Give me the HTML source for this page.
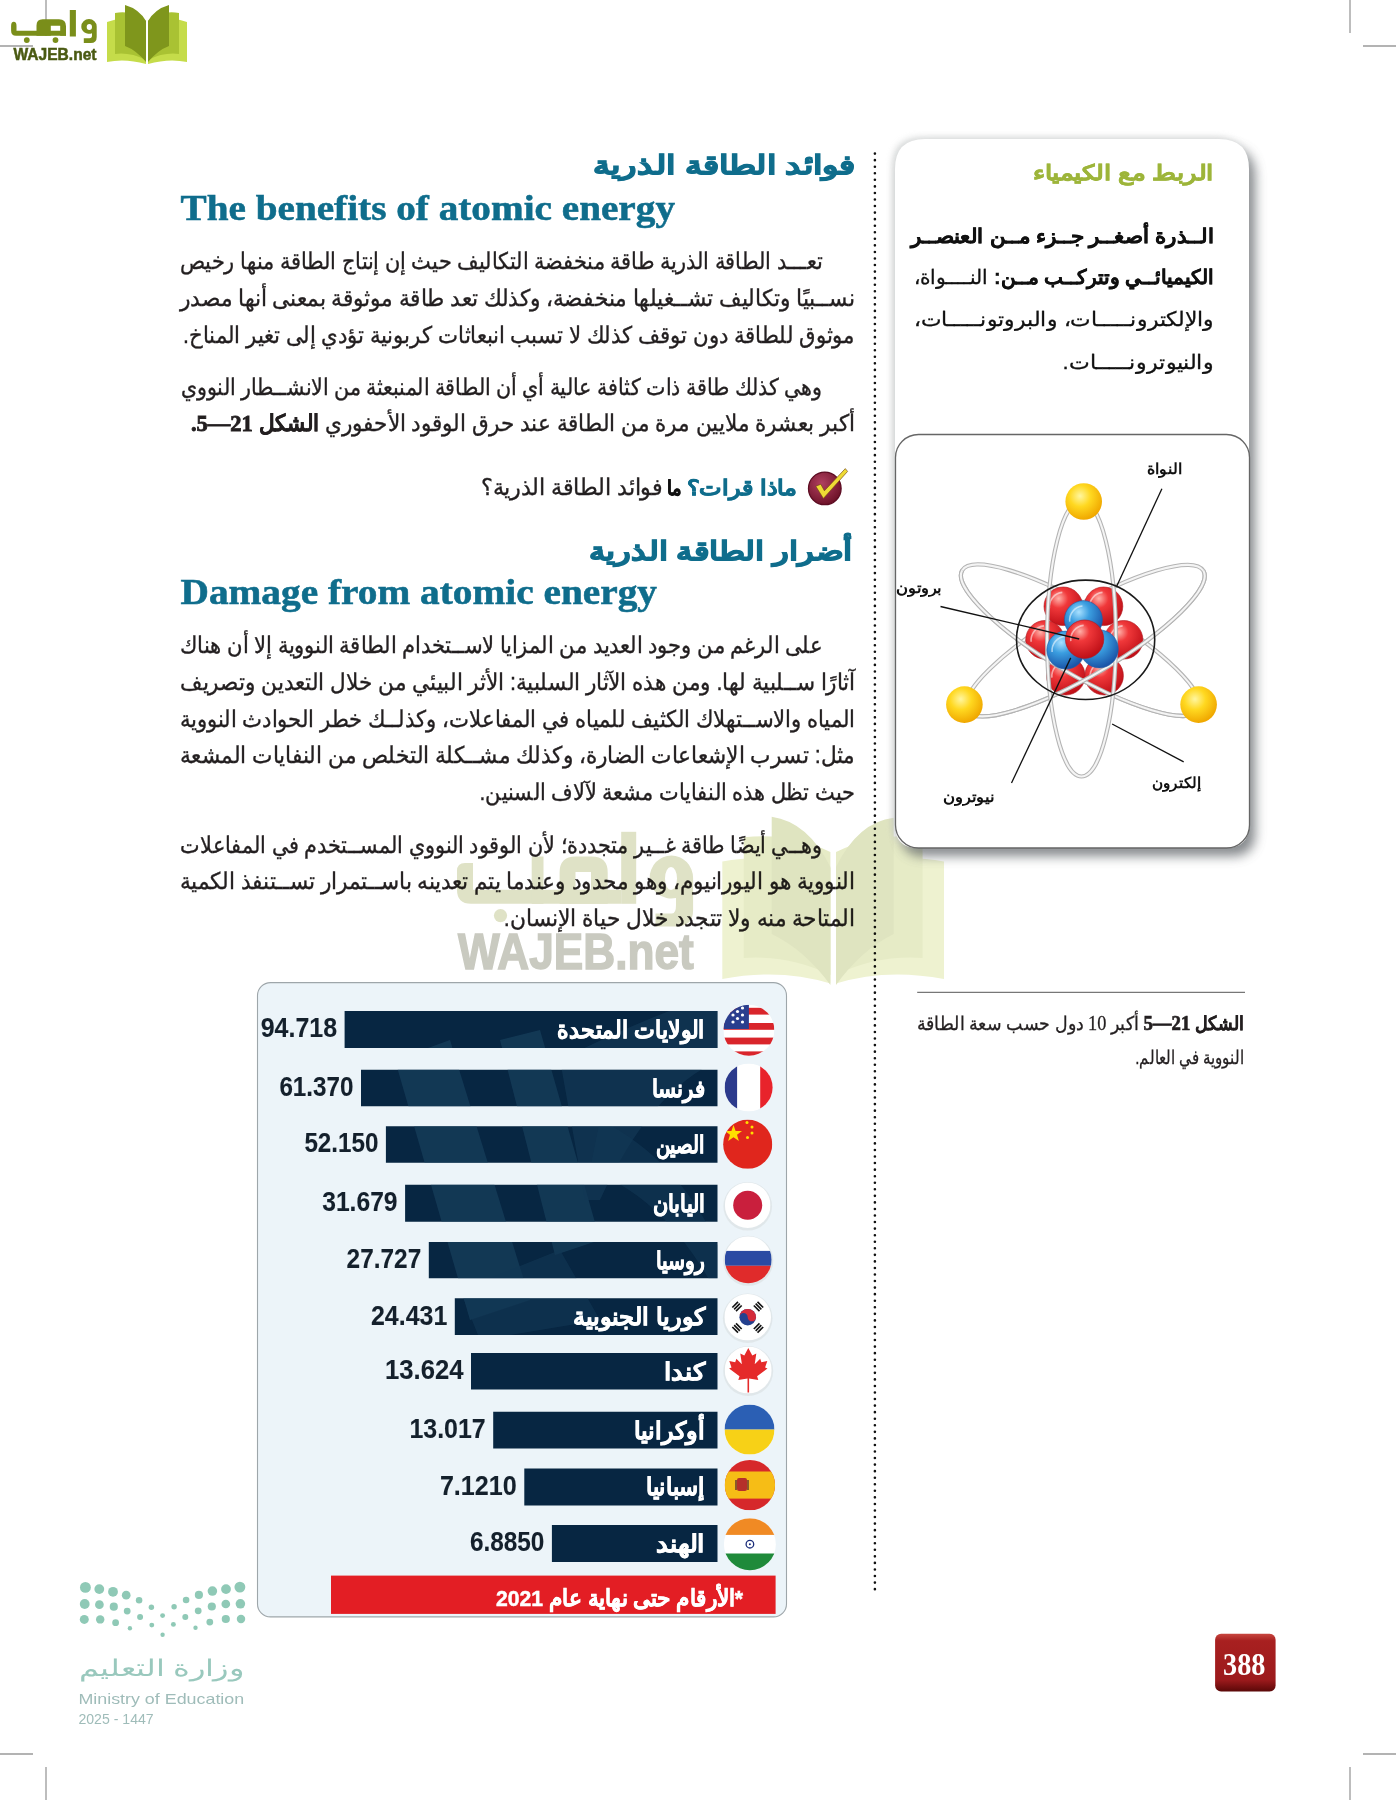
<!DOCTYPE html><html><head><meta charset="utf-8"><title>388</title><style>html,body{margin:0;padding:0;background:#fff;width:1396px;height:1800px;overflow:hidden}svg{display:block;position:absolute;left:0;top:0}.sd{font-family:"Liberation Serif",serif}</style></head><body>
<svg width="1396" height="1800" viewBox="0 0 1396 1800">
<defs>
<filter id="sh" x="-20%" y="-20%" width="140%" height="140%"><feGaussianBlur stdDeviation="6"/></filter>
<filter id="sh2" x="-20%" y="-20%" width="140%" height="140%"><feGaussianBlur stdDeviation="3"/></filter>
<radialGradient id="gRed" cx="0.38" cy="0.3" r="0.7"><stop offset="0" stop-color="#ffb0a8"/><stop offset="0.35" stop-color="#f0383a"/><stop offset="1" stop-color="#c01018"/></radialGradient>
<radialGradient id="gBlue" cx="0.38" cy="0.3" r="0.7"><stop offset="0" stop-color="#a8e0ff"/><stop offset="0.4" stop-color="#3b9ee0"/><stop offset="1" stop-color="#1a55a8"/></radialGradient>
<radialGradient id="gYel" cx="0.4" cy="0.35" r="0.65"><stop offset="0" stop-color="#fff6a0"/><stop offset="0.45" stop-color="#ffd820"/><stop offset="1" stop-color="#f0a800"/></radialGradient>
<radialGradient id="gChk" cx="0.4" cy="0.35" r="0.7"><stop offset="0" stop-color="#b04060"/><stop offset="1" stop-color="#6a0f25"/></radialGradient>
<linearGradient id="gPg" x1="0" y1="0" x2="0" y2="1"><stop offset="0" stop-color="#c8463f"/><stop offset="0.12" stop-color="#a82020"/><stop offset="0.8" stop-color="#9c1a1c"/><stop offset="1" stop-color="#5a0808"/></linearGradient>
</defs>
<g stroke="#9a9a9a" stroke-width="1.3">
<line x1="46" y1="0" x2="46" y2="36"/><line x1="0" y1="46" x2="33" y2="46"/>
<line x1="1350" y1="0" x2="1350" y2="33"/><line x1="1363" y1="46" x2="1396" y2="46"/>
<line x1="0" y1="1754" x2="33" y2="1754"/><line x1="46" y1="1767" x2="46" y2="1800"/>
<line x1="1363" y1="1754" x2="1396" y2="1754"/><line x1="1350" y1="1767" x2="1350" y2="1800"/>
</g>
<g>
<path d="M107 22 Q130 14 146 21 L146 64 Q125 58 107 62 Z" fill="#c5dc4a"/>
<path d="M187 22 Q164 14 148 21 L148 64 Q169 58 187 62 Z" fill="#c5dc4a"/>
<path d="M115 13 Q133 10 146 21 L146 60 Q130 52 115 54 Z" fill="#a9c233"/>
<path d="M179 13 Q161 10 148 21 L148 60 Q164 52 179 54 Z" fill="#a9c233"/>
<path d="M125 5 Q139 9 146 21 L146 62 Q136 50 125 46 Z" fill="#7f961c"/>
<path d="M169 5 Q155 9 148 21 L148 62 Q158 50 169 46 Z" fill="#7f961c"/>
</g>
<g fill="#7a8e1a">
<path d="M11.1 26 Q11.1 21.8 13.8 21.8 Q16.5 21.8 16.5 26 L16.5 30.8 L66 30.8 L66 35.8 L16 35.8 Q11.1 35.8 11.1 30.8 Z"/>
<path d="M36.5 35.8 L36.5 25.5 Q36.5 19.3 42.7 19.3 L59 19.3 Q66 19.3 66 26.3 L66 35.8 L60.2 35.8 L60.2 25.8 L50.8 25.8 L50.8 35.8 Z"/>
<rect x="69.8" y="10" width="6.1" height="26.5"/>
<path fill-rule="evenodd" d="M81.3 26.4 A7.7 7.4 0 0 1 96.7 26.4 L96.7 37 Q96.7 43 90.7 43 L83.8 43 L83.8 38.3 L89.5 38.3 Q92 38.3 92 35.5 L92 33.2 A7.7 7 0 0 1 81.3 26.4 Z M86.7 27 A2.65 2.9 0 1 0 92 27 A2.65 2.9 0 1 0 86.7 27 Z"/>
<circle cx="26.8" cy="40.1" r="2.9"/><circle cx="55.5" cy="40.1" r="2.9"/>
</g>
<text x="13.5" y="59.5" font-family="'Liberation Sans',sans-serif" font-size="16" font-weight="bold" fill="#4a5a12" stroke="#4a5a12" stroke-width="0.5" textLength="83" lengthAdjust="spacingAndGlyphs" >WAJEB.net</text>
<line x1="874.9" y1="153.6" x2="874.9" y2="1589.5" stroke="#111" stroke-width="2.6" stroke-linecap="round" stroke-dasharray="0 6.555"/>
<text x="854.6" y="173.6" direction="rtl" font-family="'Liberation Sans',sans-serif" font-size="25.5" font-weight="bold" fill="#0f6d8c" stroke="#0f6d8c" stroke-width="1.0" textLength="261.6" lengthAdjust="spacingAndGlyphs" >فوائد الطاقة الذرية</text>
<text x="180.5" y="220.4" font-family="'Liberation Serif',serif" font-size="36.6" font-weight="bold" fill="#0f6d8c" stroke="#0f6d8c" stroke-width="0.55" textLength="494.5" lengthAdjust="spacingAndGlyphs" >The benefits of atomic energy</text>
<text x="822" y="269.2" direction="rtl" font-family="'Liberation Sans',sans-serif" font-size="23" font-weight="normal" fill="#231f20" stroke="#231f20" stroke-width="0.35" textLength="642" lengthAdjust="spacingAndGlyphs" >تعـــد الطاقة الذرية طاقة منخفضة التكاليف حيث إن إنتاج الطاقة منها رخيص</text>
<text x="854.6" y="305.6" direction="rtl" font-family="'Liberation Sans',sans-serif" font-size="23" font-weight="normal" fill="#231f20" stroke="#231f20" stroke-width="0.35" textLength="674.6" lengthAdjust="spacingAndGlyphs" >نســبيًا وتكاليف تشــغيلها منخفضة، وكذلك تعد طاقة موثوقة بمعنى أنها مصدر</text>
<text x="854.6" y="342.5" direction="rtl" font-family="'Liberation Sans',sans-serif" font-size="23" font-weight="normal" fill="#231f20" stroke="#231f20" stroke-width="0.35" textLength="671.6" lengthAdjust="spacingAndGlyphs" >موثوق للطاقة دون توقف كذلك لا تسبب انبعاثات كربونية تؤدي إلى تغير المناخ.</text>
<text x="822" y="394.5" direction="rtl" font-family="'Liberation Sans',sans-serif" font-size="23" font-weight="normal" fill="#231f20" stroke="#231f20" stroke-width="0.35" textLength="641.4" lengthAdjust="spacingAndGlyphs" >وهي كذلك طاقة ذات كثافة عالية أي أن الطاقة المنبعثة من الانشــطار النووي</text>
<text x="854.6" y="430.5" direction="rtl" font-family="'Liberation Sans',sans-serif" font-size="23" font-weight="normal" fill="#231f20" stroke="#231f20" stroke-width="0.35" textLength="663.6" lengthAdjust="spacingAndGlyphs" >أكبر بعشرة ملايين مرة من الطاقة عند حرق الوقود الأحفوري <tspan font-weight="bold">الشكل <tspan class="sd" font-weight="bold" font-size="24" stroke-width="0.9">21—5.</tspan></tspan></text>
<circle cx="824.8" cy="488.4" r="16.3" fill="url(#gChk)" stroke="#5c0c22" stroke-width="1.3"/>
<path d="M815.8 486.3 L820.8 484.2 L824.4 490.8 L845.3 468.6 L847.6 471.4 L823.4 498.4 Z" fill="#eedb35" stroke="#6a3a10" stroke-width="0.6"/>
<text x="796.8" y="495" direction="rtl" font-family="'Liberation Sans',sans-serif" font-size="21" font-weight="bold" fill="#0f6d8c" stroke="#0f6d8c" stroke-width="0.6" textLength="110.3" lengthAdjust="spacingAndGlyphs" >ماذا قرات؟</text>
<text x="682" y="495" direction="rtl" font-family="'Liberation Sans',sans-serif" font-size="20" font-weight="bold" fill="#111" stroke="#111" stroke-width="0.6" textLength="15" lengthAdjust="spacingAndGlyphs" >ما</text>
<text x="662.7" y="495" direction="rtl" font-family="'Liberation Sans',sans-serif" font-size="23" font-weight="normal" fill="#231f20" stroke="#231f20" stroke-width="0.35" textLength="181.7" lengthAdjust="spacingAndGlyphs" >فوائد الطاقة الذرية؟</text>
<text x="852" y="560.3" direction="rtl" font-family="'Liberation Sans',sans-serif" font-size="25.5" font-weight="bold" fill="#0f6d8c" stroke="#0f6d8c" stroke-width="1.0" textLength="263.4" lengthAdjust="spacingAndGlyphs" >أضرار الطاقة الذرية</text>
<text x="180.5" y="603.6" font-family="'Liberation Serif',serif" font-size="36.6" font-weight="bold" fill="#0f6d8c" stroke="#0f6d8c" stroke-width="0.55" textLength="476.5" lengthAdjust="spacingAndGlyphs" >Damage from atomic energy</text>
<text x="822.7" y="652.9" direction="rtl" font-family="'Liberation Sans',sans-serif" font-size="23" font-weight="normal" fill="#231f20" stroke="#231f20" stroke-width="0.35" textLength="642.7" lengthAdjust="spacingAndGlyphs" >على الرغم من وجود العديد من المزايا لاســتخدام الطاقة النووية إلا أن هناك</text>
<text x="854.6" y="689.8" direction="rtl" font-family="'Liberation Sans',sans-serif" font-size="23" font-weight="normal" fill="#231f20" stroke="#231f20" stroke-width="0.35" textLength="674.6" lengthAdjust="spacingAndGlyphs" >آثارًا ســلبية لها. ومن هذه الآثار السلبية: الأثر البيئي من خلال التعدين وتصريف</text>
<text x="854.6" y="726.5" direction="rtl" font-family="'Liberation Sans',sans-serif" font-size="23" font-weight="normal" fill="#231f20" stroke="#231f20" stroke-width="0.35" textLength="674.6" lengthAdjust="spacingAndGlyphs" >المياه والاســتهلاك الكثيف للمياه في المفاعلات، وكذلــك خطر الحوادث النووية</text>
<text x="854.6" y="763.2" direction="rtl" font-family="'Liberation Sans',sans-serif" font-size="23" font-weight="normal" fill="#231f20" stroke="#231f20" stroke-width="0.35" textLength="674.6" lengthAdjust="spacingAndGlyphs" >مثل: تسرب الإشعاعات الضارة، وكذلك مشــكلة التخلص من النفايات المشعة</text>
<text x="854.6" y="799.7" direction="rtl" font-family="'Liberation Sans',sans-serif" font-size="23" font-weight="normal" fill="#231f20" stroke="#231f20" stroke-width="0.35" textLength="375" lengthAdjust="spacingAndGlyphs" >حيث تظل هذه النفايات مشعة لآلاف السنين.</text>
<text x="822" y="852.5" direction="rtl" font-family="'Liberation Sans',sans-serif" font-size="23" font-weight="normal" fill="#231f20" stroke="#231f20" stroke-width="0.35" textLength="642" lengthAdjust="spacingAndGlyphs" >وهــي أيضًا طاقة غــير متجددة؛ لأن الوقود النووي المســتخدم في المفاعلات</text>
<text x="854.6" y="889.2" direction="rtl" font-family="'Liberation Sans',sans-serif" font-size="23" font-weight="normal" fill="#231f20" stroke="#231f20" stroke-width="0.35" textLength="674.6" lengthAdjust="spacingAndGlyphs" >النووية هو اليورانيوم، وهو محدود وعندما يتم تعدينه باســتمرار تســتنفذ الكمية</text>
<text x="854.6" y="925.7" direction="rtl" font-family="'Liberation Sans',sans-serif" font-size="23" font-weight="normal" fill="#231f20" stroke="#231f20" stroke-width="0.35" textLength="350.8" lengthAdjust="spacingAndGlyphs" >المتاحة منه ولا تتجدد خلال حياة الإنسان.</text>
<g style="mix-blend-mode:multiply">
<path d="M722.3 861.5 Q770 852 830.4 868 L830.4 983.5 Q780 968 722.3 979 Z" fill="#eef2d0"/>
<path d="M743.8 837.3 Q790 832 830.4 852 L830.4 975 Q790 955 743.8 958 Z" fill="#e6ebc6"/>
<path d="M771.7 816.8 Q808 822 830.4 867 L830.4 985 Q805 950 771.7 934 Z" fill="#dfe4c0"/>
<path d="M944 861.5 Q896 852 836 868 L836 983.5 Q886 968 944 979 Z" fill="#eef2d0"/>
<path d="M922.6 837.3 Q876 832 836 852 L836 975 Q876 955 922.6 958 Z" fill="#e6ebc6"/>
<path d="M893.7 817.7 Q858 822 836 867 L836 985 Q861 950 893.7 934 Z" fill="#dfe4c0"/>
<g fill="#dfe2c6">
<path d="M457 871 Q457 863 465 863 L473 863 L473 889.8 L621.2 889.8 L621.2 903.8 L471 903.8 Q457 903.8 457 889.8 Z"/>
<rect x="531.7" y="856.5" width="11.8" height="47.3"/>
<path fill-rule="evenodd" d="M559.6 903.8 L559.6 872.5 Q559.6 856.5 575.6 856.5 L591.7 856.5 Q607.7 856.5 607.7 872.5 L607.7 903.8 Z M575.5 872 L575.5 889.8 L591 889.8 L591 872 Z"/>
<rect x="621.2" y="831.8" width="15" height="72"/>
<path fill-rule="evenodd" d="M649.6 878 A21.75 22.5 0 0 1 693.1 878 L693.1 910 Q693.1 926.4 676.7 926.4 L655.5 926.4 L655.5 913.5 L672 913.5 Q676 913.5 676 905 L676 898 A21.75 21 0 0 1 649.6 878 Z M665 878.5 A6 11.5 0 1 0 677 878.5 A6 11.5 0 1 0 665 878.5 Z"/>
<circle cx="500.5" cy="915.6" r="6.6"/>
</g>
<text x="458" y="969.4" font-family="'Liberation Sans',sans-serif" font-size="50" font-weight="bold" fill="#c9cac0" stroke="#c9cac0" stroke-width="1.5" textLength="235.7" lengthAdjust="spacingAndGlyphs" >WAJEB.net</text>
</g>
<path d="M925 139 L1219 139 Q1249 139 1249 169 L1249 825 Q1249 848 1226 848 L918 848 Q895 848 895 825 L895 169 Q895 139 925 139 Z" fill="#5a5f63" opacity="0.75" filter="url(#sh)" transform="translate(6,8)"/>
<path d="M925 139 L1219 139 Q1249 139 1249 169 L1249 825 Q1249 848 1226 848 L918 848 Q895 848 895 825 L895 169 Q895 139 925 139 Z" fill="#c9cccc" opacity="0.7" filter="url(#sh2)" transform="translate(-3,-2)"/>
<path d="M925 139 L1219 139 Q1249 139 1249 169 L1249 825 Q1249 848 1226 848 L918 848 Q895 848 895 825 L895 169 Q895 139 925 139 Z" fill="#fff"/>
<text x="1213.7" y="179.5" direction="rtl" font-family="'Liberation Sans',sans-serif" font-size="21" font-weight="bold" fill="#9db53a" stroke="#9db53a" stroke-width="0.5" textLength="181" lengthAdjust="spacingAndGlyphs" >الربط مع الكيمياء</text>
<text x="1214" y="242.9" direction="rtl" font-family="'Liberation Sans',sans-serif" font-size="20" font-weight="bold" fill="#111" stroke="#111" stroke-width="0.4" textLength="303" lengthAdjust="spacingAndGlyphs" >الــذرة أصغــر جــزء مــن العنصــر</text>
<text x="1214" y="284.1" direction="rtl" font-family="'Liberation Sans',sans-serif" font-size="20" font-weight="normal" fill="#111" stroke="#111" stroke-width="0.3" textLength="300" lengthAdjust="spacingAndGlyphs" ><tspan font-weight="bold">الكيميائــي وتتركــب مــن:</tspan> النــــواة،</text>
<text x="1214" y="326" direction="rtl" font-family="'Liberation Sans',sans-serif" font-size="20" font-weight="normal" fill="#111" stroke="#111" stroke-width="0.3" textLength="300" lengthAdjust="spacingAndGlyphs" >والإلكترونـــــات، والبروتونـــــات،</text>
<text x="1214" y="368.6" direction="rtl" font-family="'Liberation Sans',sans-serif" font-size="20" font-weight="normal" fill="#111" stroke="#111" stroke-width="0.3" textLength="151.5" lengthAdjust="spacingAndGlyphs" >والنيوترونـــــات.</text>
<rect x="895.5" y="434.5" width="354" height="413.5" rx="23" ry="23" fill="#fff" stroke="#666" stroke-width="1.3"/>
<defs><clipPath id="cOA"><rect x="880" y="640.2" width="400" height="200" transform="rotate(30.56 1080.4 640.2)"/></clipPath>
<clipPath id="cOB"><rect x="885" y="640.6" width="400" height="200" transform="rotate(-30.56 1085.2 640.6)"/></clipPath></defs>
<g ><ellipse cx="1080.4" cy="640.2" rx="137.3" ry="34" transform="rotate(30.56 1080.4 640.2)" fill="none" stroke="#b4b4b4" stroke-width="4.2"/>
<ellipse cx="1080.4" cy="640.2" rx="137.3" ry="34" transform="rotate(30.56 1080.4 640.2)" fill="none" stroke="#f4f4f4" stroke-width="2"/></g>
<g ><ellipse cx="1085.2" cy="640.6" rx="137.3" ry="34" transform="rotate(-30.56 1085.2 640.6)" fill="none" stroke="#b4b4b4" stroke-width="4.2"/>
<ellipse cx="1085.2" cy="640.6" rx="137.3" ry="34" transform="rotate(-30.56 1085.2 640.6)" fill="none" stroke="#f4f4f4" stroke-width="2"/></g>
<circle cx="1063.3" cy="606.3" r="19.3" fill="url(#gRed)" stroke="#b0161c" stroke-width="0.6"/>
<path d="M1049.404 608.2299999999999 A14.475000000000001 14.475000000000001 0 0 1 1062.335 592.404" fill="none" stroke="#ffffff" stroke-opacity="0.55" stroke-width="1.6"/>
<circle cx="1103.5" cy="606.3" r="19.3" fill="url(#gRed)" stroke="#b0161c" stroke-width="0.6"/>
<path d="M1089.604 608.2299999999999 A14.475000000000001 14.475000000000001 0 0 1 1102.535 592.404" fill="none" stroke="#ffffff" stroke-opacity="0.55" stroke-width="1.6"/>
<circle cx="1045" cy="639.8" r="19.3" fill="url(#gRed)" stroke="#b0161c" stroke-width="0.6"/>
<path d="M1031.104 641.7299999999999 A14.475000000000001 14.475000000000001 0 0 1 1044.035 625.904" fill="none" stroke="#ffffff" stroke-opacity="0.55" stroke-width="1.6"/>
<circle cx="1123.6" cy="639.8" r="19.3" fill="url(#gRed)" stroke="#b0161c" stroke-width="0.6"/>
<path d="M1109.704 641.7299999999999 A14.475000000000001 14.475000000000001 0 0 1 1122.635 625.904" fill="none" stroke="#ffffff" stroke-opacity="0.55" stroke-width="1.6"/>
<circle cx="1065.8" cy="675.7" r="19.3" fill="url(#gRed)" stroke="#b0161c" stroke-width="0.6"/>
<path d="M1051.904 677.63 A14.475000000000001 14.475000000000001 0 0 1 1064.835 661.8040000000001" fill="none" stroke="#ffffff" stroke-opacity="0.55" stroke-width="1.6"/>
<circle cx="1104.1" cy="675.7" r="19.3" fill="url(#gRed)" stroke="#b0161c" stroke-width="0.6"/>
<path d="M1090.204 677.63 A14.475000000000001 14.475000000000001 0 0 1 1103.135 661.8040000000001" fill="none" stroke="#ffffff" stroke-opacity="0.55" stroke-width="1.6"/>
<g clip-path="url(#cOA)"><ellipse cx="1080.4" cy="640.2" rx="137.3" ry="34" transform="rotate(30.56 1080.4 640.2)" fill="none" stroke="#b4b4b4" stroke-width="4.2"/>
<ellipse cx="1080.4" cy="640.2" rx="137.3" ry="34" transform="rotate(30.56 1080.4 640.2)" fill="none" stroke="#f4f4f4" stroke-width="2"/></g>
<g clip-path="url(#cOB)"><ellipse cx="1085.2" cy="640.6" rx="137.3" ry="34" transform="rotate(-30.56 1085.2 640.6)" fill="none" stroke="#b4b4b4" stroke-width="4.2"/>
<ellipse cx="1085.2" cy="640.6" rx="137.3" ry="34" transform="rotate(-30.56 1085.2 640.6)" fill="none" stroke="#f4f4f4" stroke-width="2"/></g>
<g ><ellipse cx="1081.5" cy="638.5" rx="34.4" ry="138" transform="rotate(0 1081.5 638.5)" fill="none" stroke="#b4b4b4" stroke-width="4.2"/>
<ellipse cx="1081.5" cy="638.5" rx="34.4" ry="138" transform="rotate(0 1081.5 638.5)" fill="none" stroke="#f4f4f4" stroke-width="2"/></g>
<circle cx="1083.4" cy="619.7" r="19" fill="url(#gBlue)" stroke="#1e5ca8" stroke-width="0.6"/>
<path d="M1069.72 621.6 A14.25 14.25 0 0 1 1082.45 606.0200000000001" fill="none" stroke="#ffffff" stroke-opacity="0.55" stroke-width="1.6"/>
<circle cx="1065.8" cy="650.1" r="19" fill="url(#gBlue)" stroke="#1e5ca8" stroke-width="0.6"/>
<path d="M1052.12 652.0 A14.25 14.25 0 0 1 1064.85 636.4200000000001" fill="none" stroke="#ffffff" stroke-opacity="0.55" stroke-width="1.6"/>
<circle cx="1099.3" cy="648.9" r="19" fill="url(#gBlue)" stroke="#1e5ca8" stroke-width="0.6"/>
<path d="M1085.62 650.8 A14.25 14.25 0 0 1 1098.35 635.22" fill="none" stroke="#ffffff" stroke-opacity="0.55" stroke-width="1.6"/>
<circle cx="1084.6" cy="639.2" r="19.2" fill="url(#gRed)" stroke="#b0161c" stroke-width="0.6"/>
<path d="M1070.7759999999998 641.12 A14.399999999999999 14.399999999999999 0 0 1 1083.6399999999999 625.3760000000001" fill="none" stroke="#ffffff" stroke-opacity="0.55" stroke-width="1.6"/>
<ellipse cx="1085.6" cy="639.8" rx="69.1" ry="59.7" fill="none" stroke="#1a1a1a" stroke-width="1.6"/>
<circle cx="1083.7" cy="501.5" r="18.3" fill="url(#gYel)"/>
<circle cx="964.4" cy="704.6" r="18.3" fill="url(#gYel)"/>
<circle cx="1198.6" cy="704.6" r="18.3" fill="url(#gYel)"/>
<g stroke="#111" stroke-width="1.3">
<line x1="1161.9" y1="488.7" x2="1116.7" y2="586.3"/>
<line x1="940.5" y1="606.5" x2="1079.2" y2="639"/>
<line x1="1011.5" y1="783" x2="1070.7" y2="657.9"/>
<line x1="1112.1" y1="724" x2="1183.7" y2="761.9"/>
</g>
<text x="1182.3" y="473.5" direction="rtl" font-family="'Liberation Sans',sans-serif" font-size="15" font-weight="bold" fill="#111"  textLength="35.8" lengthAdjust="spacingAndGlyphs" >النواة</text>
<text x="941.6" y="593" direction="rtl" font-family="'Liberation Sans',sans-serif" font-size="15" font-weight="bold" fill="#111"  textLength="45.8" lengthAdjust="spacingAndGlyphs" >بروتون</text>
<text x="994.6" y="801.5" direction="rtl" font-family="'Liberation Sans',sans-serif" font-size="15" font-weight="bold" fill="#111"  textLength="51.6" lengthAdjust="spacingAndGlyphs" >نيوترون</text>
<text x="1200.9" y="787.5" direction="rtl" font-family="'Liberation Sans',sans-serif" font-size="15" font-weight="bold" fill="#111"  textLength="48.7" lengthAdjust="spacingAndGlyphs" >إلكترون</text>
<line x1="917.2" y1="992.3" x2="1245" y2="992.3" stroke="#555" stroke-width="1"/>
<text x="1243.6" y="1029.7" direction="rtl" font-family="'Liberation Sans',sans-serif" font-size="19" font-weight="normal" fill="#231f20" stroke="#231f20" stroke-width="0.3" textLength="326.6" lengthAdjust="spacingAndGlyphs" ><tspan font-weight="bold">الشكل <tspan class="sd" font-weight="bold" font-size="20.5" stroke-width="0.7">21—5</tspan></tspan> أكبر <tspan class="sd" font-size="20">10</tspan> دول حسب سعة الطاقة</text>
<text x="1243.6" y="1064.3" direction="rtl" font-family="'Liberation Sans',sans-serif" font-size="19" font-weight="normal" fill="#231f20" stroke="#231f20" stroke-width="0.3" textLength="108.3" lengthAdjust="spacingAndGlyphs" >النووية في العالم.</text>
<rect x="257.5" y="982.6" width="529" height="634.3" rx="13" ry="13" fill="#ecf4f9" stroke="#9ea6aa" stroke-width="1.1"/>
<defs><clipPath id="barclip">
<rect x="344.6" y="1011.1" width="372.9" height="36.89999999999998"/>
<rect x="361.0" y="1069.7" width="356.5" height="36.5"/>
<rect x="385.9" y="1126.2" width="331.6" height="36.59999999999991"/>
<rect x="405.1" y="1184.8" width="312.4" height="36.90000000000009"/>
<rect x="428.8" y="1242.1" width="288.7" height="36.200000000000045"/>
<rect x="454.8" y="1298.3" width="262.7" height="36.700000000000045"/>
<rect x="471.0" y="1352.9" width="246.5" height="36.59999999999991"/>
<rect x="493.2" y="1411.7" width="224.3" height="36.700000000000045"/>
<rect x="524.3" y="1468.4" width="193.20000000000005" height="37.0"/>
<rect x="551.9" y="1525.0" width="165.60000000000002" height="37.0"/>
</clipPath></defs>
<g clip-path="url(#barclip)">
<rect x="340" y="1005" width="380" height="560" fill="#072642"/>
<g fill="#1b4562" opacity="0.6">
<path d="M395 1060 L450 1040 L530 1300 L470 1320 Z"/>
<path d="M500 1040 L540 1030 L600 1240 L555 1255 Z"/>
<path d="M560 1060 Q640 1020 700 1000 L720 1000 L720 1060 Q650 1090 600 1200 L585 1200 Z" opacity="0.7"/>
<path d="M600 1120 Q680 1160 720 1250 L720 1300 Q670 1200 590 1170 Z" opacity="0.6"/>
<path d="M460 1290 L560 1250 L600 1320 L480 1340 Z" opacity="0.6"/>
</g>
</g>
<text x="260.7" y="1037.3" font-family="'Liberation Sans',sans-serif" font-size="27.5" font-weight="bold" fill="#14202c" stroke="#14202c" stroke-width="0.1" textLength="76.40000000000003" lengthAdjust="spacingAndGlyphs" >94.718</text>
<text x="704.8" y="1038.1" direction="rtl" font-family="'Liberation Sans',sans-serif" font-size="24" font-weight="bold" fill="#ffffff" stroke="#ffffff" stroke-width="0.6" textLength="147.5" lengthAdjust="spacingAndGlyphs" >الولايات المتحدة</text>
<text x="279.4" y="1095.9" font-family="'Liberation Sans',sans-serif" font-size="27.5" font-weight="bold" fill="#14202c" stroke="#14202c" stroke-width="0.1" textLength="74.10000000000002" lengthAdjust="spacingAndGlyphs" >61.370</text>
<text x="704.8" y="1096.7" direction="rtl" font-family="'Liberation Sans',sans-serif" font-size="24" font-weight="bold" fill="#ffffff" stroke="#ffffff" stroke-width="0.6" textLength="52.799999999999955" lengthAdjust="spacingAndGlyphs" >فرنسا</text>
<text x="304.4" y="1152.4" font-family="'Liberation Sans',sans-serif" font-size="27.5" font-weight="bold" fill="#14202c" stroke="#14202c" stroke-width="0.1" textLength="74.0" lengthAdjust="spacingAndGlyphs" >52.150</text>
<text x="704.8" y="1153.2" direction="rtl" font-family="'Liberation Sans',sans-serif" font-size="24" font-weight="bold" fill="#ffffff" stroke="#ffffff" stroke-width="0.6" textLength="49.0" lengthAdjust="spacingAndGlyphs" >الصين</text>
<text x="322.2" y="1211.0" font-family="'Liberation Sans',sans-serif" font-size="27.5" font-weight="bold" fill="#14202c" stroke="#14202c" stroke-width="0.1" textLength="75.40000000000003" lengthAdjust="spacingAndGlyphs" >31.679</text>
<text x="704.8" y="1211.8" direction="rtl" font-family="'Liberation Sans',sans-serif" font-size="24" font-weight="bold" fill="#ffffff" stroke="#ffffff" stroke-width="0.6" textLength="52.09999999999991" lengthAdjust="spacingAndGlyphs" >اليابان</text>
<text x="346.6" y="1268.3" font-family="'Liberation Sans',sans-serif" font-size="27.5" font-weight="bold" fill="#14202c" stroke="#14202c" stroke-width="0.1" textLength="74.69999999999999" lengthAdjust="spacingAndGlyphs" >27.727</text>
<text x="704.8" y="1269.1" direction="rtl" font-family="'Liberation Sans',sans-serif" font-size="24" font-weight="bold" fill="#ffffff" stroke="#ffffff" stroke-width="0.6" textLength="49.0" lengthAdjust="spacingAndGlyphs" >روسيا</text>
<text x="371.0" y="1324.5" font-family="'Liberation Sans',sans-serif" font-size="27.5" font-weight="bold" fill="#14202c" stroke="#14202c" stroke-width="0.1" textLength="76.30000000000001" lengthAdjust="spacingAndGlyphs" >24.431</text>
<text x="704.8" y="1325.3" direction="rtl" font-family="'Liberation Sans',sans-serif" font-size="24" font-weight="bold" fill="#ffffff" stroke="#ffffff" stroke-width="0.6" textLength="131.79999999999995" lengthAdjust="spacingAndGlyphs" >كوريا الجنوبية</text>
<text x="385.0" y="1379.1000000000001" font-family="'Liberation Sans',sans-serif" font-size="27.5" font-weight="bold" fill="#14202c" stroke="#14202c" stroke-width="0.1" textLength="78.5" lengthAdjust="spacingAndGlyphs" >13.624</text>
<text x="704.8" y="1379.9" direction="rtl" font-family="'Liberation Sans',sans-serif" font-size="24" font-weight="bold" fill="#ffffff" stroke="#ffffff" stroke-width="0.6" textLength="41.09999999999991" lengthAdjust="spacingAndGlyphs" >كندا</text>
<text x="409.4" y="1437.9" font-family="'Liberation Sans',sans-serif" font-size="27.5" font-weight="bold" fill="#14202c" stroke="#14202c" stroke-width="0.1" textLength="76.30000000000001" lengthAdjust="spacingAndGlyphs" >13.017</text>
<text x="704.8" y="1438.7" direction="rtl" font-family="'Liberation Sans',sans-serif" font-size="24" font-weight="bold" fill="#ffffff" stroke="#ffffff" stroke-width="0.6" textLength="70.79999999999995" lengthAdjust="spacingAndGlyphs" >أوكرانيا</text>
<text x="439.9" y="1494.6000000000001" font-family="'Liberation Sans',sans-serif" font-size="27.5" font-weight="bold" fill="#14202c" stroke="#14202c" stroke-width="0.1" textLength="76.89999999999998" lengthAdjust="spacingAndGlyphs" >7.1210</text>
<text x="704.8" y="1495.4" direction="rtl" font-family="'Liberation Sans',sans-serif" font-size="24" font-weight="bold" fill="#ffffff" stroke="#ffffff" stroke-width="0.6" textLength="58.799999999999955" lengthAdjust="spacingAndGlyphs" >إسبانيا</text>
<text x="469.9" y="1551.2" font-family="'Liberation Sans',sans-serif" font-size="27.5" font-weight="bold" fill="#14202c" stroke="#14202c" stroke-width="0.1" textLength="74.5" lengthAdjust="spacingAndGlyphs" >6.8850</text>
<text x="704.8" y="1552.0" direction="rtl" font-family="'Liberation Sans',sans-serif" font-size="24" font-weight="bold" fill="#ffffff" stroke="#ffffff" stroke-width="0.6" textLength="49.0" lengthAdjust="spacingAndGlyphs" >الهند</text>
<rect x="331" y="1575.6" width="444.6" height="38.3" fill="#e31e24"/>
<text x="743" y="1605.6" direction="rtl" font-family="'Liberation Sans',sans-serif" font-size="22.5" font-weight="bold" fill="#ffffff" stroke="#ffffff" stroke-width="0.5" textLength="247" lengthAdjust="spacingAndGlyphs" >*الأرقام حتى نهاية عام 2021</text>
<defs><clipPath id="fc1"><circle cx="748.9" cy="1030.2" r="25.5"/></clipPath></defs>
<g clip-path="url(#fc1)"><rect x="723.4" y="1004.7" width="51.0" height="51.0" fill="#fff"/><rect x="723.4" y="1007.8" width="51.0" height="6.8" fill="#d9252b"/><rect x="723.4" y="1023.0" width="51.0" height="6.8" fill="#d9252b"/><rect x="723.4" y="1037.6" width="51.0" height="6.8" fill="#d9252b"/><rect x="723.4" y="1051.4" width="51.0" height="6.8" fill="#d9252b"/><rect x="723.4" y="1004.7" width="25.5" height="24.299999999999955" fill="#2a3e8e"/><circle cx="742.5" cy="1008" r="1.6" fill="#fff"/><circle cx="733" cy="1015" r="1.6" fill="#fff"/><circle cx="742.5" cy="1015" r="1.6" fill="#fff"/><circle cx="733" cy="1022" r="1.6" fill="#fff"/><circle cx="742.5" cy="1022" r="1.6" fill="#fff"/><circle cx="737.5" cy="1011.5" r="1.6" fill="#fff"/><circle cx="737.5" cy="1018.5" r="1.6" fill="#fff"/></g>
<defs><clipPath id="fc2"><circle cx="748.6" cy="1087.5" r="24"/></clipPath></defs>
<g clip-path="url(#fc2)"><rect x="724.6" y="1063.5" width="48" height="48" fill="#fff"/><rect x="724.6" y="1063.5" width="12.5" height="48" fill="#2b3a8c"/><rect x="760.2" y="1063.5" width="15" height="48" fill="#e8232b"/></g>
<defs><clipPath id="fc3"><circle cx="747.7" cy="1144.2" r="24.6"/></clipPath></defs>
<g clip-path="url(#fc3)"><rect x="723.1" y="1119.6000000000001" width="49.2" height="49.2" fill="#e0261d"/><path d="M733.5 1125 L735.6 1131 L742 1131 L737 1134.8 L738.9 1141 L733.5 1137.2 L728.1 1141 L730 1134.8 L725 1131 L731.4 1131 Z" fill="#ffde00"/><circle cx="747" cy="1122.5" r="1.5" fill="#ffde00"/><circle cx="752" cy="1127" r="1.5" fill="#ffde00"/><circle cx="752" cy="1133" r="1.5" fill="#ffde00"/><circle cx="747.5" cy="1137.5" r="1.5" fill="#ffde00"/></g>
<defs><clipPath id="fc4"><circle cx="747.7" cy="1205.2" r="22.8"/></clipPath></defs>
<circle cx="747.7" cy="1206.2" r="24.3" fill="#dde3e6" opacity="0.8"/>
<g clip-path="url(#fc4)"><rect x="724.9000000000001" y="1182.4" width="45.6" height="45.6" fill="#fff"/><circle cx="747.7" cy="1205.2" r="14.5" fill="#c91f3d"/></g>
<defs><clipPath id="fc5"><circle cx="748.2" cy="1259.8" r="23.5"/></clipPath></defs>
<circle cx="748.2" cy="1260.8" r="25.0" fill="#dde3e6" opacity="0.8"/>
<g clip-path="url(#fc5)"><rect x="724.7" y="1236.3" width="47.0" height="47.0" fill="#fff"/><rect x="724.7" y="1250.9" width="47.0" height="14.9" fill="#2a4aa3"/><rect x="724.7" y="1265.8" width="47.0" height="20" fill="#e02b2b"/></g>
<defs><clipPath id="fc6"><circle cx="747.7" cy="1317.2" r="23.3"/></clipPath></defs>
<circle cx="747.7" cy="1318.2" r="24.8" fill="#dde3e6" opacity="0.8"/>
<g clip-path="url(#fc6)"><rect x="724.4000000000001" y="1293.9" width="46.6" height="46.6" fill="#fff"/><circle cx="747.7" cy="1317.2" r="8.3" fill="#24408e"/><path d="M739.4000000000001 1317.2 A8.3 8.3 0 0 1 756.0 1317.2 A4.15 4.15 0 0 1 747.7 1317.2 A4.15 4.15 0 0 0 739.4000000000001 1317.2 Z" fill="#d42b3a"/><rect x="733" y="1303.1000000000001" width="8" height="1.6" fill="#111" transform="rotate(-45 737 1306.5)"/><rect x="733" y="1305.7" width="8" height="1.6" fill="#111" transform="rotate(-45 737 1306.5)"/><rect x="733" y="1308.3" width="8" height="1.6" fill="#111" transform="rotate(-45 737 1306.5)"/><rect x="754.5" y="1303.1000000000001" width="8" height="1.6" fill="#111" transform="rotate(45 758.5 1306.5)"/><rect x="754.5" y="1305.7" width="8" height="1.6" fill="#111" transform="rotate(45 758.5 1306.5)"/><rect x="754.5" y="1308.3" width="8" height="1.6" fill="#111" transform="rotate(45 758.5 1306.5)"/><rect x="733" y="1324.6000000000001" width="8" height="1.6" fill="#111" transform="rotate(45 737 1328)"/><rect x="733" y="1327.2" width="8" height="1.6" fill="#111" transform="rotate(45 737 1328)"/><rect x="733" y="1329.8" width="8" height="1.6" fill="#111" transform="rotate(45 737 1328)"/><rect x="754.5" y="1324.6000000000001" width="8" height="1.6" fill="#111" transform="rotate(-45 758.5 1328)"/><rect x="754.5" y="1327.2" width="8" height="1.6" fill="#111" transform="rotate(-45 758.5 1328)"/><rect x="754.5" y="1329.8" width="8" height="1.6" fill="#111" transform="rotate(-45 758.5 1328)"/></g>
<defs><clipPath id="fc7"><circle cx="748.2" cy="1370" r="23.5"/></clipPath></defs>
<circle cx="748.2" cy="1371" r="25.0" fill="#dde3e6" opacity="0.8"/>
<g clip-path="url(#fc7)"><rect x="724.7" y="1346.5" width="47.0" height="47.0" fill="#fff"/><path d="M748.3 1348 L744.3 1355.6 L740.3 1353.6 L741.9 1364.2 L736.4 1358.8 L735.2 1362.2 L729.3 1360.9 L731.5 1367.4 L729.1 1368.6 L739.5 1376.2 L738.3 1380 L747.5 1378.6 L747.5 1392.5 L749.1 1392.5 L749.1 1378.6 L758.3 1380 L757.1 1376.2 L767.5 1368.6 L765.1 1367.4 L767.3 1360.9 L761.4 1362.2 L760.2 1358.8 L754.7 1364.2 L756.3 1353.6 L752.3 1355.6 Z" fill="#e52a2a"/></g>
<defs><clipPath id="fc8"><circle cx="749.5" cy="1429.6" r="25"/></clipPath></defs>
<g clip-path="url(#fc8)"><rect x="724.5" y="1404.6" width="50" height="50" fill="#fff"/><rect x="724.5" y="1404.6" width="50" height="25.0" fill="#2b5fb4"/><rect x="724.5" y="1429.6" width="50" height="25" fill="#f7d117"/></g>
<defs><clipPath id="fc9"><circle cx="749.9" cy="1485.1" r="25.2"/></clipPath></defs>
<g clip-path="url(#fc9)"><rect x="724.6999999999999" y="1459.8999999999999" width="50.4" height="50.4" fill="#fff"/><rect x="724.6999999999999" y="1459.8999999999999" width="50.4" height="50.4" fill="#d6282b"/><rect x="724.6999999999999" y="1471.5" width="50.4" height="27.1" fill="#f6bd16"/><rect x="737" y="1478" width="10" height="13" rx="2" fill="#b5302a"/><rect x="735" y="1480" width="2" height="10" fill="#8a5a2a"/><rect x="747" y="1480" width="2" height="10" fill="#8a5a2a"/></g>
<defs><clipPath id="fc10"><circle cx="749.9" cy="1544.2" r="26"/></clipPath></defs>
<g clip-path="url(#fc10)"><rect x="723.9" y="1518.2" width="52" height="52" fill="#fff"/><rect x="723.9" y="1518.2" width="52" height="16.700000000000045" fill="#f08a24"/><rect x="723.9" y="1553.5" width="52" height="20" fill="#1f8a3a"/><circle cx="749.9" cy="1544.2" r="3.8" fill="none" stroke="#1b2d7a" stroke-width="1.3"/><circle cx="749.9" cy="1544.2" r="1" fill="#1b2d7a"/></g>
<g fill="#8fc9b6">
<circle cx="85.4" cy="1587.4" r="5.44"/>
<circle cx="99.3" cy="1589.1" r="4.90"/>
<circle cx="113.0" cy="1591.8" r="4.90"/>
<circle cx="126.2" cy="1595.2" r="4.36"/>
<circle cx="139.1" cy="1600.2" r="3.27"/>
<circle cx="151.4" cy="1607.2" r="2.72"/>
<circle cx="174.1" cy="1606.7" r="2.72"/>
<circle cx="186.1" cy="1599.9" r="3.27"/>
<circle cx="198.9" cy="1594.9" r="4.08"/>
<circle cx="212.4" cy="1591.1" r="4.76"/>
<circle cx="226.0" cy="1589.1" r="4.90"/>
<circle cx="239.9" cy="1587.1" r="5.44"/>
<circle cx="84.7" cy="1604.0" r="4.90"/>
<circle cx="99.4" cy="1604.7" r="4.36"/>
<circle cx="113.8" cy="1606.7" r="4.08"/>
<circle cx="127.2" cy="1611.1" r="3.40"/>
<circle cx="140.1" cy="1617.0" r="2.99"/>
<circle cx="162.6" cy="1615.6" r="2.45"/>
<circle cx="185.3" cy="1617.0" r="2.99"/>
<circle cx="198.2" cy="1610.8" r="3.40"/>
<circle cx="211.8" cy="1606.5" r="4.08"/>
<circle cx="225.8" cy="1604.0" r="4.36"/>
<circle cx="240.4" cy="1603.8" r="4.76"/>
<circle cx="84.3" cy="1619.4" r="4.49"/>
<circle cx="100.2" cy="1619.4" r="4.22"/>
<circle cx="115.6" cy="1622.7" r="3.40"/>
<circle cx="129.9" cy="1628.3" r="2.18"/>
<circle cx="151.8" cy="1625.1" r="2.45"/>
<circle cx="162.6" cy="1634.7" r="2.18"/>
<circle cx="173.4" cy="1624.4" r="2.45"/>
<circle cx="195.5" cy="1627.8" r="2.18"/>
<circle cx="209.8" cy="1622.1" r="3.40"/>
<circle cx="225.8" cy="1619.0" r="4.08"/>
<circle cx="241.0" cy="1619.0" r="4.22"/>
</g>
<text x="244.2" y="1676" direction="rtl" font-family="'Liberation Sans',sans-serif" font-size="22.5" font-weight="normal" fill="#8ec3b6"  textLength="165.4" lengthAdjust="spacingAndGlyphs" opacity="0.9">وزارة التعليم</text>
<text x="78.4" y="1703.8" font-family="'Liberation Sans',sans-serif" font-size="14.5" font-weight="normal" fill="#9fbcb9"  textLength="165.8" lengthAdjust="spacingAndGlyphs" >Ministry of Education</text>
<text x="78.4" y="1723.5" font-family="'Liberation Sans',sans-serif" font-size="14.5" font-weight="normal" fill="#9fbcb9"  textLength="75.3" lengthAdjust="spacingAndGlyphs" >2025 - 1447</text>
<rect x="1215.1" y="1633.8" width="60.5" height="57.7" rx="6" ry="6" fill="url(#gPg)"/>
<text x="1223" y="1674.5" font-family="'Liberation Serif',serif" font-size="31" font-weight="bold" fill="#ffffff"  textLength="42.4" lengthAdjust="spacingAndGlyphs" >388</text>
</svg></body></html>
